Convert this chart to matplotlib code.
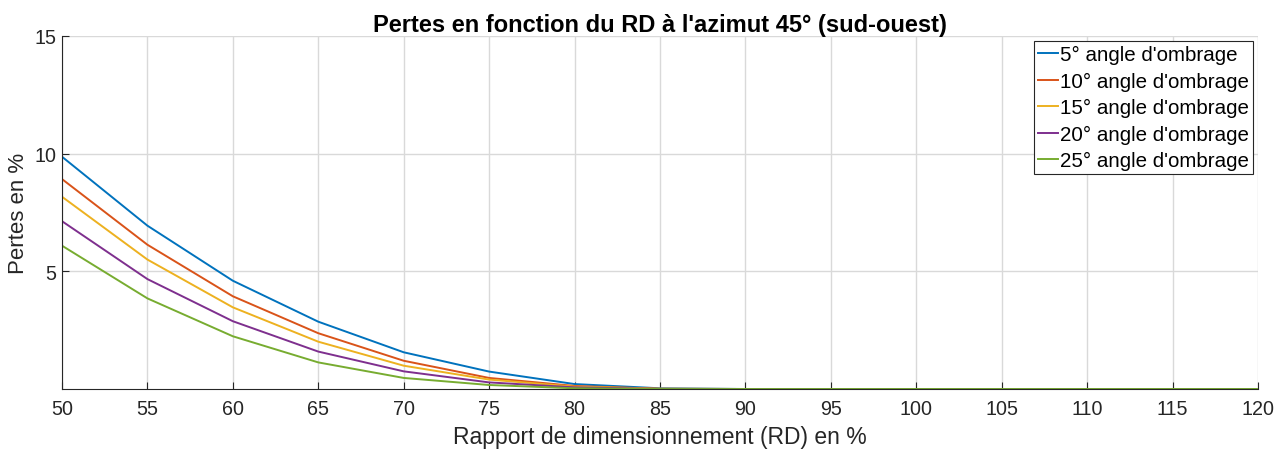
import matplotlib
matplotlib.use("Agg")
import matplotlib.pyplot as plt

rd = [50, 55, 60, 65, 70, 75, 80, 85, 90, 95, 100, 105, 110, 115, 120]
loss_5 = [9.87, 6.94, 4.60, 2.86, 1.56, 0.74, 0.21, 0.03, 0, 0, 0, 0, 0, 0, 0]
loss_10 = [8.92, 6.13, 3.94, 2.37, 1.20, 0.47, 0.13, 0.01, 0, 0, 0, 0, 0, 0, 0]
loss_15 = [8.17, 5.50, 3.47, 2.01, 0.99, 0.40, 0.10, 0.01, 0, 0, 0, 0, 0, 0, 0]
loss_20 = [7.13, 4.67, 2.88, 1.59, 0.75, 0.28, 0.07, 0.0, 0, 0, 0, 0, 0, 0, 0]
loss_25 = [6.09, 3.85, 2.24, 1.13, 0.47, 0.17, 0.03, 0.0, 0, 0, 0, 0, 0, 0, 0]
labels = ["5° angle d'ombrage", "10° angle d'ombrage", "15° angle d'ombrage",
          "20° angle d'ombrage", "25° angle d'ombrage"]
colors = ["#0072BD", "#D95319", "#EDB120", "#7E2F8E", "#77AC30"]
xticks = list(range(50, 121, 5))
yticks = [5, 10, 15]

plt.rcParams['font.family'] = ['Liberation Sans', 'DejaVu Sans']

fig = plt.figure(figsize=(12.85, 4.52), dpi=100)
ax = fig.add_axes([62/1285, 1 - 390/452, (1258 - 62)/1285, (390 - 37)/452])

for ys, lab, c in zip([loss_5, loss_10, loss_15, loss_20, loss_25], labels, colors):
    ax.plot(rd, ys, color=c, lw=1.4, label=lab)

ax.set_xlim(50, 120)
ax.set_ylim(0, 15)
ax.set_xticks(xticks)
ax.set_yticks(yticks)
ax.tick_params(direction='in', length=5, width=0.8, labelsize=14.2, colors='#262626')
ax.tick_params(axis='x', pad=7)
ax.tick_params(axis='y', pad=4)
ax.grid(True, color='#d9d9d9', lw=1.0)
ax.set_axisbelow(True)
for s in ['top', 'right']:
    ax.spines[s].set_visible(False)
for s in ['left', 'bottom']:
    ax.spines[s].set_color('#262626')
    ax.spines[s].set_linewidth(0.8)

ax.set_xlabel("Rapport de dimensionnement (RD) en %", fontsize=16.5, color='#262626', labelpad=5)
ax.set_ylabel("Pertes en %", fontsize=16, color='#262626', labelpad=4)
ax.set_title("Pertes en fonction du RD à l'azimut 45° (sud-ouest)", fontsize=17,
             fontweight='bold', pad=3)

leg = ax.legend(loc='upper right', fontsize=14.8, frameon=True, fancybox=False,
                edgecolor='#262626', framealpha=1, handlelength=0.95, handletextpad=0.1,
                labelspacing=0.36, borderpad=0.2, borderaxespad=0.25)
leg.get_frame().set_linewidth(0.8)

fig.savefig("out.png", dpi=100)
